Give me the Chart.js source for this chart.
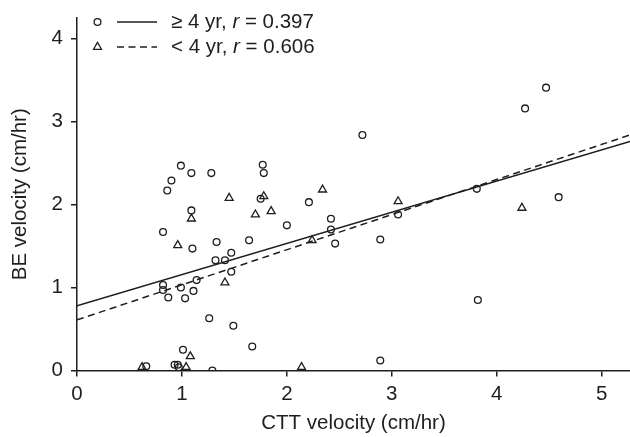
<!DOCTYPE html>
<html>
<head>
<meta charset="utf-8">
<title>CTT vs BE velocity</title>
<script src="https://cdn.jsdelivr.net/npm/chart.js@4.4.1/dist/chart.umd.min.js"></script>
<style>
  html, body { margin: 0; padding: 0; background: #fff; }
  #wrap { width: 630px; height: 437px; position: relative; }
</style>
</head>
<body>
<div id="wrap"><canvas id="chart"></canvas></div>
<script>
/* ---------------- Data ---------------- */

// >= 4 yr group (open circles)
const ctt4up = [0.99, 0.90, 0.86, 1.09, 1.28, 1.77, 1.78, 1.75, 1.09, 2.00, 2.21, 0.82,
  1.10, 1.33, 1.64, 1.47, 1.32, 1.41, 1.47, 1.14, 0.82, 0.82, 0.99, 1.11, 0.87, 1.03,
  1.26, 1.49, 1.67, 1.01, 0.66, 0.93, 0.96, 0.97, 1.29, 4.47, 4.27, 2.72, 2.42, 2.42,
  2.46, 2.89, 3.06, 3.81, 4.59, 3.82, 2.89];
const be4up = [2.47, 2.29, 2.17, 2.38, 2.38, 2.48, 2.38, 2.07, 1.93, 1.75, 2.03, 1.67,
  1.47, 1.55, 1.57, 1.42, 1.33, 1.33, 1.19, 1.09, 1.03, 0.97, 1.00, 0.96, 0.88, 0.87,
  0.63, 0.54, 0.29, 0.25, 0.05, 0.07, 0.07, 0.04, 0.00, 3.41, 3.16, 2.84, 1.83, 1.70,
  1.53, 1.58, 1.88, 2.19, 2.09, 0.85, 0.12];

// < 4 yr group (open triangles)
const ctt4down = [1.45, 1.78, 1.09, 1.70, 1.85, 2.34, 0.96, 1.41, 2.24, 1.08, 0.62, 1.04, 2.14, 3.06, 4.24];
const be4down = [2.08, 2.10, 1.83, 1.88, 1.92, 2.18, 1.51, 1.06, 1.57, 0.17, 0.04, 0.04, 0.04, 2.04, 1.96];

// regression lines, endpoints at the axis limits
const fitX = [0, 5.27];
const fit4upY = [0.78, 2.76];
const fit4downY = [0.61, 2.84];

const xTicks = [0, 1, 2, 3, 4, 5];
const yTicks = [0, 1, 2, 3, 4];
const xMax = 5.27;
const yMax = 4.25;

const legendGroups = ["\u2265 4 yr, ", "< 4 yr, "];
const legendR = ["0.397", "0.606"];

const xTitle = "CTT velocity (cm/hr)";
const yTitle = "BE velocity (cm/hr)";

/* ---------------- Chart ---------------- */

const FONT = "Liberation Sans, Arial, sans-serif";
const FSIZE = 20.5;
const INK = "#1e1e1e";

function pairs(xs, ys) {
  return xs.map((x, i) => ({ x: x, y: ys[i] }));
}

// legend in the top-left corner, drawn by hand (marker + line + text with italic r)
const legendPlugin = {
  id: "cornerLegend",
  afterDraw(chart) {
    const ctx = chart.ctx;
    const rows = [22, 47];
    ctx.save();
    ctx.strokeStyle = INK;
    ctx.fillStyle = INK;
    ctx.lineWidth = 1.3;
    rows.forEach((y, i) => {
      // marker
      ctx.beginPath();
      if (i === 0) {
        ctx.arc(97.5, y, 3.4, 0, Math.PI * 2);
      } else {
        const r = 4.6;
        ctx.moveTo(97.5, y - r);
        ctx.lineTo(97.5 + r * 0.866, y + r * 0.5);
        ctx.lineTo(97.5 - r * 0.866, y + r * 0.5);
        ctx.closePath();
      }
      ctx.stroke();
      // line sample
      ctx.beginPath();
      ctx.lineWidth = 1.5;
      ctx.setLineDash(i === 0 ? [] : [7, 4.5]);
      ctx.moveTo(117, y);
      ctx.lineTo(157, y);
      ctx.stroke();
      ctx.setLineDash([]);
      ctx.lineWidth = 1.3;
      // text
      ctx.textBaseline = "middle";
      let x = 171;
      ctx.font = FSIZE + "px " + FONT;
      ctx.fillText(legendGroups[i], x, y);
      x += ctx.measureText(legendGroups[i]).width;
      ctx.font = "italic " + FSIZE + "px " + FONT;
      ctx.fillText("r", x, y);
      x += ctx.measureText("r").width;
      ctx.font = FSIZE + "px " + FONT;
      ctx.fillText(" = " + legendR[i], x, y);
    });
    ctx.restore();
  }
};

const ctx = document.getElementById("chart").getContext("2d");
new Chart(ctx, {
  data: {
    datasets: [
      {
        type: "scatter",
        label: "\u2265 4 yr",
        data: pairs(ctt4up, be4up),
        pointStyle: "circle",
        pointRadius: 3.4,
        pointBorderWidth: 1.3,
        borderColor: INK,
        backgroundColor: "rgba(0,0,0,0)",
        clip: { left: 6, top: 6, right: 6, bottom: 0 }
      },
      {
        type: "scatter",
        label: "< 4 yr",
        data: pairs(ctt4down, be4down),
        pointStyle: "triangle",
        pointRadius: 4.6,
        pointBorderWidth: 1.3,
        borderColor: INK,
        backgroundColor: "rgba(0,0,0,0)",
        clip: { left: 6, top: 6, right: 6, bottom: 0 }
      },
      {
        type: "line",
        label: "fit >= 4 yr",
        data: pairs(fitX, fit4upY),
        borderColor: INK,
        borderWidth: 1.5,
        pointRadius: 0,
        fill: false
      },
      {
        type: "line",
        label: "fit < 4 yr",
        data: pairs(fitX, fit4downY),
        borderColor: INK,
        borderWidth: 1.5,
        borderDash: [7, 4.5],
        pointRadius: 0,
        fill: false
      }
    ]
  },
  options: {
    responsive: true,
    maintainAspectRatio: false,
    animation: false,
    layout: { autoPadding: false, padding: { top: 18, right: 0, left: 0, bottom: 0 } },
    plugins: {
      legend: { display: false },
      tooltip: { enabled: false }
    },
    scales: {
      x: {
        type: "linear",
        min: 0,
        max: xMax,
        afterBuildTicks: s => { s.ticks = xTicks.map(v => ({ value: v })); },
        afterFit: s => { s.height = 66.5; s.paddingLeft = 0; s.paddingRight = 0; },
        grid: { drawOnChartArea: false, drawTicks: true, tickLength: 6, color: INK, lineWidth: 1.5 },
        border: { color: INK, width: 1.5 },
        ticks: { color: INK, font: { family: FONT, size: FSIZE }, padding: 6, maxRotation: 0 },
        title: { display: true, text: xTitle, color: INK, font: { family: FONT, size: FSIZE }, padding: { top: 0, bottom: 1 } }
      },
      y: {
        type: "linear",
        min: 0,
        max: yMax,
        afterBuildTicks: s => { s.ticks = yTicks.map(v => ({ value: v })); },
        afterFit: s => { s.width = 77; s.paddingTop = 0; s.paddingBottom = 0; },
        grid: { drawOnChartArea: false, drawTicks: true, tickLength: 6, color: INK, lineWidth: 1.5 },
        border: { color: INK, width: 1.5 },
        ticks: { color: INK, font: { family: FONT, size: FSIZE }, padding: 8 },
        title: { display: true, text: yTitle, color: INK, font: { family: FONT, size: FSIZE }, padding: { top: 8, bottom: 0 } }
      }
    }
  },
  plugins: [legendPlugin]
});
</script>
</body>
</html>
